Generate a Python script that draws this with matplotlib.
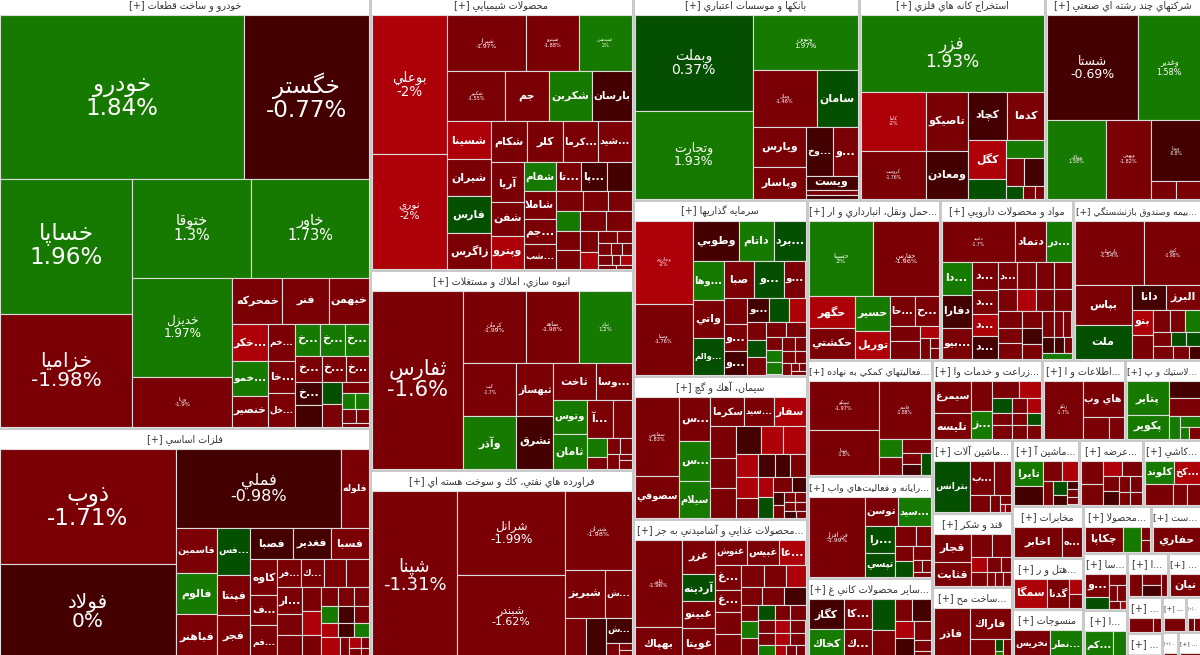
import matplotlib
matplotlib.use('Agg')
import matplotlib.pyplot as plt
from matplotlib.patches import Rectangle

# ---------- data: sector names, sector sizes, stock names / sizes / changes ----------
sector_names = ['خودرو و ساخت قطعات', 'فلزات اساسي', 'محصولات شيميايي', 'انبوه سازي، املاك و مستغلات',
                'فراورده هاي نفتي، كك و سوخت هسته اي', 'بانكها و موسسات اعتباري', 'استخراج كانه هاي فلزي',
                'شركتهاي چند رشته اي صنعتي', 'سرمايه گذاريها', 'سيمان، آهك و گچ',
                '...محصولات غذايي و آشاميدني به جز', '...حمل ونقل، انبارداري و ار', 'مواد و محصولات دارويي',
                '...بيمه وصندوق بازنشستگي', '...فعاليتهاي كمكي به نهاده', '...رايانه و فعاليت\u200cهاي واب',
                '...ساير محصولات كاني غ', '...زراعت و خدمات وا', '...اطلاعات و ا', '...لاستيك و پ',
                '... ماشين آلات', 'قند و شكر', '...ساخت مح', '...ماشين آ', '... عرضه', '... كاشي',
                'مخابرات', '...هتل و ر', 'منسوجات', '...محصولا', '...ست', '...سا', '...ا',
                '...ا', '...', '...', '...', '...', '...', '...', '...']
sector_caps = [161448, 86676, 72588, 52600, 50233, 46556, 38316, 32342, 30624, 24882, 24708,
               21280, 21280, 20640, 14500, 12750, 10375, 8800, 6640, 6160, 5840, 5920, 5920,
               4422, 4224, 3894, 3692, 3621, 3692, 3196, 2397, 2508, 2244, 1804, 1496,
               1260, 980, 840, 560, 464, 696]

auto_names = ['خودرو', 'خگستر', 'خساپا', 'خزاميا', 'ختوقا', 'خاور', 'خديزل', 'ورنا', 'خمحركه', 'فنر', 'خبهمن',
              'خكر...', 'خمو...', 'خنصير', 'خم...', 'خا...', 'خل...', 'خ...', 'خ...', 'خ...', 'خ...', 'خ...', '',
              'خ...', 'خ...', '', '', '', '', '', '', '', '']
auto_caps = [39935, 20375, 17952, 14916, 11760, 11564, 9900, 4950, 2300, 2150, 1850, 1332, 1260, 1080,
             999, 864, 891, 800, 800, 770, 680, 600, 570, 600, 575, 462, 462, 312, 204, 204, 195, 165, 100]
auto_changes = [1.84, -0.77, 1.96, -1.98, 1.3, 1.73, 1.97, -1.9, -1.6, -1.5, -1.7, -2, 1.5, -1.6, -1.5, -1.4,
                -1.5, 1.5, 1.5, 1.4, -1.5, -0.6, -0.5, -1.5, -1.5, 0.5, -1.5, -1.5, 1.2, 1.2, -1.5, -1.4, -1.4]

metal_names = ['ذوب', 'فولاد', 'فملي', 'فلوله', 'فاسمين', 'فالوم', 'فباهنر', 'فس...', 'فپنتا', 'فجر', 'فصبا',
               'فغدير', 'فسبا', 'كاوه', 'ف...', 'فم...', 'فر...', 'ك...', '', '', 'ار...', '', '', '', '', '',
               '', '', '', '', '', '', '', '', '', '', '', '', '', '', '']
metal_caps = [19895, 16435, 12692, 2128, 1800, 1640, 1800, 1551, 1320, 1452, 1302, 1178, 1147, 936, 780, 884,
              672, 616, 616, 616, 650, 525, 600, 437, 456, 456, 306, 288, 270, 272, 256, 240, 238, 224, 210,
              408, 192, 130, 80, 130, 80]
metal_changes = [-1.71, 0, -0.98, -1.5, -1.6, 1.5, -1.6, 0.5, -1.5, -1.5, -0.8, -0.7, -1.5, -1.5, -1.5, -1.5,
                 -1.5, -1.5, -1.5, -1.5, -1.5, -1.5, -1.5, -1.5, -2.2, -1.5, -1.5, -1.4, -1.5, 1.5, -0.5, -1.5,
                 -2.2, -0.6, 1.5, -2.2, -1.5, -2.2, -1.5, -1.5, -1.5]

chem_names = ['بوعلي', 'نوري', 'شيراز', 'شپترو', 'شپديس', 'شكبير', 'جم', 'شكربن', 'بارسان', 'شسينا', 'شيران',
              'فارس', 'زاگرس', 'شكام', 'كلر', 'كرما...', 'شيد...', 'آريا', 'شفن', 'وپترو', 'شفام', 'شاملا',
              'جم ...', 'شب...', 'تا...', 'پا...', '', '', '', '', '', '', '', '', '', '', '', '', '', '', '',
              '', '', '', '', '', '']
chem_caps = [10212, 8436, 4266, 2862, 2862, 2784, 2112, 2064, 1920, 1634, 1548, 1548, 1505, 1476, 1435, 1435,
             1353, 1248, 1088, 1024, 899, 868, 775, 744, 700, 700, 672, 546, 504, 483, 456, 475, 475, 456, 432,
             378, 306, 228, 168, 144, 132, 108, 144, 72, 120, 60, 50]
chem_changes = [-2, -2, -1.97, -1.88, 2, -1.55, -1.5, 1.6, -0.7, -2.1, -1.6, 0.5, -1.6, -1.5, -1.5, -1.5, -1.5,
                -1.5, -1.5, -2.2, 1.5, -1.5, -1.5, -1.5, -1.5, -0.8, -0.6, -1.5, -1.5, -1.5, 1.5, -1.5, -1.5,
                -1.5, -1.5, -1.5, -2.2, -1.5, -1.5, -1.5, -1.5, -1.5, -1.5, -1.5, -2.2, -1.5, -1.5]

build_names = ['ثفارس', 'كرمان', 'ساهد', 'ثباغ', 'كبت', 'وآذر', 'ثبهساز', 'تشرق', 'ثاخت', 'وسا...', 'وتوس',
               'ثامان', 'آ ...', '', '', '', '', '', '', '', '']
build_caps = [15930, 4402, 3763, 3692, 2756, 2704, 1908, 1872, 1548, 1296, 1122, 1122, 936, 684, 380, 240, 195,
              180, 168, 78, 104]
build_changes = [-1.6, -1.99, -1.98, 1.2, -1.7, 1.5, -1.5, -0.7, -1.5, -1.5, 1.6, 1.5, -1.5, -1.5, 1.4, -1.5,
                 -1.5, -1.5, -1.5, -1.5, -1.5]

oil_names = ['شپنا', 'شرانل', 'شبندر', 'شتران', 'شبريز', 'ش...', '', '', 'ش...', '', '', '']
oil_caps = [14535, 9095, 9095, 5304, 1920, 1296, 860, 817, 648, 221, 84, 120]
oil_changes = [-1.31, -1.99, -1.62, -1.98, -1.5, -1.5, -1.5, -0.6, -0.7, -1.5, -1.5, -1.5]

bank_names = ['وبملت', 'وتجارت', 'ونوين', 'وملل', 'سامان', 'ويارس', 'وپاسار', 'وخ...', 'و...', 'ويست', '', '']
bank_caps = [11232, 10179, 5724, 3584, 2296, 2080, 1664, 1296, 1200, 736, 228, 190]
bank_changes = [0.37, 1.93, 1.97, -1.46, 0.5, -1.5, -1.5, -0.7, -1.5, -0.6, -1.5, -0.5]

mine_names = ['فزر', 'كاما', 'كروميت', 'تاصيكو', 'ومعادن', 'كچاد', 'كدما', 'كگل', '', '', '', '', '', '', '']
mine_caps = [13725, 3776, 3072, 2419, 1968, 1833, 1692, 1482, 722, 666, 486, 513, 208, 156, 104]
mine_changes = [1.93, -2, -1.76, -1.5, -0.7, -0.8, -1.5, -2.1, 0.5, 1.5, -1.5, -0.6, 0.5, -1.5, -1.5]

multi_names = ['شستا', 'وغدير', 'ومالك', 'وبهمن', 'وپويا', '', '']
multi_caps = [9568, 6552, 4680, 3510, 3000, 425, 408]
multi_changes = [-0.69, 1.58, 1.58, -1.82, -0.8, -1.5, -1.5]

invest_names = ['وخارزم', 'وسپا', 'وطوبي', 'داتام', 'برد...', 'وها...', 'واتي', 'والم...', 'صبا', 'و...', 'و...',
                '', 'و...', 'و...', 'و...', '', '', '', '', '', '', '', '', '', '', '', '', '', '', '', '', '', '']
invest_caps = [4592, 3920, 1748, 1330, 1216, 1140, 1110, 1080, 1054, 1054, 748, 598, 621, 529, 506, 460, 391,
               324, 306, 306, 280, 280, 195, 180, 180, 169, 143, 143, 121, 105, 60, 50, 50]
invest_changes = [-2, -1.76, -0.7, 1.5, 0.5, 1.5, -1.5, 0.5, -1.5, 0.5, -1.5, -1.5, -1.5, -0.7, -0.6, 0.5, -2.2,
                  -1.5, 0.5, -1.5, -1.5, -1.5, -1.5, 1.5, 1.5, -1.5, -1.5, -1.5, -1.5, -1.5, -1.5, -1.5, -1.5]

cement_names = ['سفارس', 'سصوفي', 'س...', 'س...', 'سيلام', 'سكرما', 'سيد...', 'سفار', '', '', '', '', '', '',
                '', '', '', '', '', '', '', '', '', '', '', '', '', '', '', '', '', '']
cement_caps = [3397, 1763, 1320, 1200, 1080, 952, 840, 868, 768, 720, 720, 675, 594, 594, 504, 441, 420, 374,
               330, 330, 294, 294, 266, 196, 140, 140, 110, 110, 88, 88, 70, 60]
cement_changes = [-1.83, -1.5, -1.5, 1.5, 1.6, -1.5, -1.5, -2.1, -1.5, -1.5, -1.5, -0.7, -2.2, -2.2, -2.2, -2.2,
                  -1.5, -0.6, -0.6, -1.5, -2.2, 0.5, -1.5, -0.6, -0.7, -1.5, -1.5, -1.5, -1.5, -1.5, -0.6, -1.5]

food_names = ['غلدر', 'بهپاك', 'غزر', 'آردينه', 'غبينو', 'غويتا', 'غنوش', 'غبيس', 'عا...', 'غ...', 'غ...', '', '',
              '', '', '', '', '', '', '', '', '', '', '', '', '', '', '', '', '', '', '', '', '', '']
food_caps = [4002, 1518, 1088, 864, 864, 992, 775, 800, 650, 600, 550, 550, 625, 483, 441, 399, 378, 378, 378,
             272, 289, 357, 240, 225, 225, 221, 195, 195, 204, 180, 180, 238, 154, 140, 126]
food_changes = [-1.96, -1.5, -1.5, 0.5, -1.5, -1.5, -1.5, -1.5, -2.1, -1.5, -1.5, -1.5, -1.5, -1.5, -1.5, -2.2,
                -1.5, -1.5, -0.6, -1.5, 1.5, -1.5, 0.5, -1.5, -1.5, -1.5, -2.2, -1.5, -1.5, -2.2, -1.5, 1.5,
                -2.2, -1.5, -1.5]

trans_names = ['حسينا', 'حفارس', 'حگهر', 'حكشتي', 'حسير', 'توريل', 'حا...', 'ح...', '', '', '', '', '', '']
trans_caps = [4680, 4752, 1440, 1395, 1190, 952, 725, 696, 448, 504, 210, 190, 90, 90]
trans_changes = [2, -1.96, -2.1, -1.5, 1.6, -2.1, -1.5, -1.5, -1.5, -1.5, -2.2, -1.5, -1.5, -1.5]

pharma_names = ['دعبيد', 'دتماد', 'در...', 'دا...', 'دفارا', 'بيو...', 'د...', 'د...', 'د...', 'د...', 'د...', '', '',
                '', '', '', '', '', '', '', '', '', '', '', '', '', '', '', '', '', '']
pharma_caps = [2736, 1140, 950, 891, 891, 837, 672, 552, 528, 528, 480, 456, 432, 432, 400, 380, 360, 360, 360,
               340, 340, 306, 289, 255, 270, 198, 198, 180, 144, 108, 150]
pharma_changes = [-1.7, -1.5, 1.5, 1.5, -0.6, -1.5, -1.5, -1.5, -2.1, -0.7, -1.5, -1.5, -1.5, -1.5, -1.5, -2.2,
                  -1.5, -1.5, -1.5, -1.5, -1.5, -1.5, -0.5, -1.5, -1.5, -1.5, -1.5, -0.6, -0.6, -1.5, 1.5]

fund_names = ['بارساب', 'كوثر', 'بپاس', 'ملت', 'دانا', 'البرز', 'بنو', '', '', '', '', '', '', '', '', '', '']
fund_caps = [4402, 3534, 2280, 1881, 840, 864, 525, 504, 378, 315, 336, 252, 210, 196, 252, 210, 140]
fund_changes = [-1.54, -1.98, -1.5, 0.5, -0.7, -1.5, -2.1, -1.5, -1.5, -1.5, 1.5, -1.5, 0.5, 0.5, -1.5, -1.5, -0.6]

support_names = ['تيپيكو', 'سيتا', 'قاسم', '', '', '', '', '', '']
support_caps = [3381, 3036, 2916, 414, 391, 378, 209, 190, 198]
support_changes = [-1.97, -1.8, -1.88, 1.5, -1.5, -1.5, -1.5, -0.6, 0.5]

web_names = ['فن افزار', 'توسن', 'سيد...', 'را...', 'تپسي', '', '', '', '', '', '', '', '']
web_caps = [4374, 924, 924, 784, 700, 396, 288, 256, 256, 242, 110, 110, 70]
web_changes = [-1.99, -1.5, 1.5, 0.5, 0.5, -1.5, -1.5, -1.5, 0.5, -1.5, -1.5, -1.5, -1.5]

other_names = ['كگاز', 'كخاك', 'كا...', 'ك...', '', '', '', '', '', '', '', '', '']
other_caps = [1054, 1088, 806, 832, 704, 660, 380, 400, 324, 396, 315, 180, 150]
other_changes = [-0.6, 1.5, -1.5, -1.5, 0.5, -1.5, -1.5, -0.6, -2.2, -0.6, -1.5, -1.5, -1.5]

farm_names = ['سيمرغ', 'تليسه', '', 'ز...', '', '', '', '', '', '', '', '', '', '', '']
farm_caps = [1188, 936, 630, 588, 459, 374, 300, 225, 195, 240, 180, 156, 260, 195, 169]
farm_changes = [-1.5, -1.5, -1.5, 1.5, -1.5, -2.2, 0.5, -1.5, -2.2, -1.5, -1.5, 0.5, -1.5, -1.5, -1.5]

info_names = ['رتكو', 'هاي وب', '', '']
info_caps = [2242, 1476, 572, 308]
info_changes = [-1.7, -1.5, -1.5, -1.5]

rubber_names = ['پتاير', 'پكوير', '', '', '', '', '', '']
rubber_caps = [1470, 1008, 544, 578, 264, 242, 110, 130]
rubber_changes = [1.5, 1.5, -0.6, -1.5, 1.5, 1.5, 1.5, -1.5]

mach_names = ['بترانس', 'ب...', '', '', '', '', '', '']
mach_caps = [1872, 840, 595, 340, 170, 90, 40, 40]
mach_changes = [0.5, -1.5, -1.5, -1.5, -1.5, -1.5, -2.2, -1.5]

sugar_names = ['قجار', 'قثابت', '', '', '', '', '', '', '', '', '']
sugar_caps = [1008, 864, 484, 418, 238, 221, 196, 140, 104, 104, 91]
sugar_changes = [-1.5, -1.5, -1.5, -1.5, -2.2, -1.5, -1.5, -1.5, -1.5, -1.5, -1.5]

metalp_names = ['فاذر', 'فاراك', '', '', '', '']
metalp_caps = [1908, 1302, 525, 108, 72, 147]
metalp_changes = [-1.5, -1.5, -1.5, 0.5, 1.5, -1.5]

mach2_names = ['تايرا', '', '', '', '', '', '', '', '', '']
mach2_caps = [754, 551, 399, 315, 242, 196, 126, 80, 80, 80]
mach2_changes = [1.5, -0.6, -1.5, -2.2, -1.5, 0.5, -0.6, -0.6, -1.5, -1.5]

trade_names = ['', '', '', '', '', '', '', '', '', '']
trade_caps = [483, 441, 266, 280, 225, 210, 176, 176, 132, 132]
trade_changes = [-1.5, -1.5, -2.2, -1.5, -1.5, -0.6, -1.5, -1.5, -1.5, -1.5]

tile_names = ['كلوند', 'كخ...', '', '', '']
tile_caps = [713, 644, 630, 336, 294]
tile_changes = [1.5, -2.2, -1.5, -1.5, -1.5]

tele_names = ['اخابر', 'ه...']
tele_caps = [1421, 580]
tele_changes = [-1.5, -1.5]

hotel_names = ['سمگا', 'گدنا', '', '']
hotel_caps = [957, 638, 182, 168]
hotel_changes = [-2.2, -1.5, -2.2, -1.5]

textile_names = ['نخريس', 'نطر...']
textile_caps = [1188, 1056]
textile_changes = [-1.5, 1.5]

prod_names = ['چكاپا', '', '', '']
prod_caps = [925, 450, 104, 96]
prod_changes = [-1.5, 1.5, -1.5, -1.5]

drill_names = ['حفاري']
drill_caps = [1250]
drill_changes = [-1.5]

sa_names = ['و...', '', '', '', '', '', '']
sa_caps = [528, 264, 160, 120, 120, 70, 40]
sa_changes = [-1.5, 0.5, -1.5, -1.5, -1.5, -1.5, -2.2]

kam_names = ['كم...', '']
kam_caps = [810, 360]
kam_changes = [1.5, 1.5]

alef_names = ['', '', '', '']
alef_caps = [294, 200, 200, 126]
alef_changes = [-1.5, -1.5, -0.6, -1.5]

nian_names = ['نيان']
nian_caps = [682]
nian_changes = [-1.5]

t1_names = ['', '']
t1_caps = [288, 96]
t1_changes = [-1.5, -1.5]

t2_names = ['']
t2_caps = [100]
t2_changes = [-1.5]

t3_names = ['']
t3_caps = [100]
t3_changes = [-1.5]

t4_names = ['', '']
t4_caps = [60, 60]
t4_changes = [-1.5, -1.5]

t5_names = ['']
t5_caps = [100]
t5_changes = [-1.5]

t6_names = ['']
t6_caps = [60]
t6_changes = [-1.5]

sector_data = [(auto_names, auto_caps, auto_changes), (metal_names, metal_caps, metal_changes),
               (chem_names, chem_caps, chem_changes), (build_names, build_caps, build_changes),
               (oil_names, oil_caps, oil_changes), (bank_names, bank_caps, bank_changes),
               (mine_names, mine_caps, mine_changes), (multi_names, multi_caps, multi_changes),
               (invest_names, invest_caps, invest_changes), (cement_names, cement_caps, cement_changes),
               (food_names, food_caps, food_changes), (trans_names, trans_caps, trans_changes),
               (pharma_names, pharma_caps, pharma_changes), (fund_names, fund_caps, fund_changes),
               (support_names, support_caps, support_changes), (web_names, web_caps, web_changes),
               (other_names, other_caps, other_changes), (farm_names, farm_caps, farm_changes),
               (info_names, info_caps, info_changes), (rubber_names, rubber_caps, rubber_changes),
               (mach_names, mach_caps, mach_changes), (sugar_names, sugar_caps, sugar_changes),
               (metalp_names, metalp_caps, metalp_changes), (mach2_names, mach2_caps, mach2_changes),
               (trade_names, trade_caps, trade_changes), (tile_names, tile_caps, tile_changes),
               (tele_names, tele_caps, tele_changes), (hotel_names, hotel_caps, hotel_changes),
               (textile_names, textile_caps, textile_changes), (prod_names, prod_caps, prod_changes),
               (drill_names, drill_caps, drill_changes), (sa_names, sa_caps, sa_changes),
               (kam_names, kam_caps, kam_changes), (alef_names, alef_caps, alef_changes),
               (nian_names, nian_caps, nian_changes), (t1_names, t1_caps, t1_changes),
               (t2_names, t2_caps, t2_changes), (t3_names, t3_caps, t3_changes),
               (t4_names, t4_caps, t4_changes), (t5_names, t5_caps, t5_changes),
               (t6_names, t6_caps, t6_changes)]

# ---------- layout order of the treemap (direction + number of items per strip) ----------
TOP_SPEC = 'v2 v3 h3 v3 h3 v3 h3 v3 h3 v3 h2 v2 h2 v2 h2 h2'
SECTOR_SPEC = [
    'h2 v2 h2 v2 h3 v3 v3 h3 v3 h2 v2 h1 h2 h2',
    'v2 h2 v3 v3 h3 v3 h4 v3 v3 h3 h3 h3 v1 v1 h2 h2',
    'v2 h3 h4 v4 h4 v3 v4 h3 h3 h3 v2 v2 h2 h3 h3',
    'v1 h3 v2 v2 h2 v2 h2 v2 h2 v1 v2',
    'v1 v2 h1 h2 v1 v1 h1 v1 v2',
    'v2 h1 h2 v2 h2 h1 v2',
    'h1 v2 v2 h2 v2 h1 h2 h3',
    'h2 v1 v1 h1 h2',
    'v2 h3 v3 h3 v3 h3 v3 h2 v3 h2 h2 v1 h2 h1',
    'v2 v3 h3 v3 h3 v3 h3 v2 h2 v2 h2 h2 h3',
    'v2 v4 h3 v4 h3 h3 v3 h3 h3 h3 h4',
    'h2 v2 v2 h2 v2 h1 v1 v2',
    'h3 v3 v4 h4 h4 v3 v3 h3 h3 h1',
    'h2 v2 h2 v2 h3 h3 h3',
    'v2 h1 v2 h1 v2 v1',
    'v1 h2 v2 h2 v2 h1 h2 h1',
    'v2 v2 v2 h2 v2 h1 h1 h1',
    'v2 v2 h2 h3 h3 h3',
    'v1 h1 h2',
    'v2 h1 h1 v1 h1 h2',
    'v1 h2 v1 v1 h1 h2',
    'v2 h2 v2 h2 h3',
    'v1 h1 v1 v2 v1',
    'v2 h2 v1 v2 v3',
    'v2 h2 v2 h2 h2',
    'h2 h3',
    'h2',
    'v1 v1 v2',
    'h2',
    'v1 v1 v2',
    'h1',
    'v2 h1 h2 h2',
    'h2',
    'v1 v2 v1',
    'h1', 'h2', 'h1', 'h1', 'h2', 'h1', 'h1',
]

# ---------- font sizes (px) of labels that also show the change ----------
BIG = {'خودرو': 23, 'خگستر': 23, 'خساپا': 23, 'خزاميا': 20, 'ختوقا': 14.5, 'خاور': 14.5, 'خديزل': 12, 'ورنا': 5.5,
       'ذوب': 23, 'فولاد': 20, 'فملي': 16, 'بوعلي': 13.5, 'نوري': 10.5, 'شيراز': 6, 'شپترو': 5, 'شپديس': 5,
       'شكبير': 5, 'ثفارس': 21, 'كرمان': 6, 'ساهد': 6, 'ثباغ': 5.5, 'كبت': 4.5, 'شپنا': 18, 'شرانل': 12,
       'شبندر': 11, 'شتران': 6.5, 'وبملت': 14, 'وتجارت': 12.5, 'ونوين': 7, 'وملل': 5, 'فزر': 17, 'كاما': 5,
       'كروميت': 4.5, 'شستا': 12.5, 'وغدير': 8, 'ومالك': 5, 'وبهمن': 5, 'وپويا': 4.5, 'وخارزم': 5, 'وسپا': 5,
       'سفارس': 5, 'غلدر': 5.5, 'حسينا': 6.5, 'حفارس': 6.5, 'دعبيد': 4.5, 'بارساب': 5.5, 'كوثر': 4.5,
       'تيپيكو': 5, 'سيتا': 4.5, 'قاسم': 4.5, 'فن افزار': 6, 'رتكو': 4.5}
SMALL_PX = 11
GREEN, DARK_GREEN, DARK, RED, BRIGHT = '#177a00', '#044f00', '#440000', '#7b0006', '#ae0009'

# ---------- Persian shaping: matplotlib has no text shaping of its own ----------
def _forms(isol, n=4):
    return tuple(chr(isol + i) for i in range(n))

FORMS = {'ء': _forms(0xFE80, 1), 'آ': _forms(0xFE81, 2), 'أ': _forms(0xFE83, 2), 'ؤ': _forms(0xFE85, 2),
         'إ': _forms(0xFE87, 2), 'ئ': _forms(0xFE89), 'ا': _forms(0xFE8D, 2), 'ب': _forms(0xFE8F),
         'ة': _forms(0xFE93, 2), 'ت': _forms(0xFE95), 'ث': _forms(0xFE99), 'ج': _forms(0xFE9D), 'ح': _forms(0xFEA1),
         'خ': _forms(0xFEA5), 'د': _forms(0xFEA9, 2), 'ذ': _forms(0xFEAB, 2), 'ر': _forms(0xFEAD, 2),
         'ز': _forms(0xFEAF, 2), 'س': _forms(0xFEB1), 'ش': _forms(0xFEB5), 'ص': _forms(0xFEB9), 'ض': _forms(0xFEBD),
         'ط': _forms(0xFEC1), 'ظ': _forms(0xFEC5), 'ع': _forms(0xFEC9), 'غ': _forms(0xFECD), 'ف': _forms(0xFED1),
         'ق': _forms(0xFED5), 'ك': _forms(0xFED9), 'ل': _forms(0xFEDD), 'م': _forms(0xFEE1), 'ن': _forms(0xFEE5),
         'ه': _forms(0xFEE9), 'و': _forms(0xFEED, 2), 'ى': _forms(0xFEEF, 2), 'ي': _forms(0xFEF1),
         'پ': _forms(0xFB56), 'چ': _forms(0xFB7A), 'ژ': _forms(0xFB8A, 2), 'ک': _forms(0xFB8E), 'گ': _forms(0xFB92),
         'ی': _forms(0xFBFC)}
LAM_ALEF = {'ا': ('\uFEFB', '\uFEFC'), 'آ': ('\uFEF5', '\uFEF6'), 'أ': ('\uFEF7', '\uFEF8'), 'إ': ('\uFEF9', '\uFEFA')}


def shape(text):
    dots = '...' in text
    core = text.replace('...', '').strip()
    out, prev_joins, i = [], False, 0
    while i < len(core):
        c = core[i]
        if c not in FORMS:
            out.append('' if c == '\u200c' else c)
            prev_joins = False
            i += 1
            continue
        nxt = core[i + 1] if i + 1 < len(core) else ''
        if c == 'ل' and nxt in LAM_ALEF:
            out.append(LAM_ALEF[nxt][1 if prev_joins else 0])
            prev_joins = False
            i += 2
            continue
        f = FORMS[c]
        joins_next = len(f) == 4 and nxt in FORMS
        if prev_joins and joins_next:
            out.append(f[3])
        elif prev_joins:
            out.append(f[1])
        elif joins_next:
            out.append(f[2])
        else:
            out.append(f[0])
        prev_joins = joins_next
        i += 1
    vis = ''.join(reversed(out))
    return vis + ('...' if dots else '')


def colour(c):
    if c >= 1:
        return GREEN
    if c > 0:
        return DARK_GREEN
    if c > -1:
        return DARK
    if c > -2:
        return RED
    return BRIGHT


def layout(rect, values, spec):
    x0, y0, x1, y1 = rect
    rects, i, total = [], 0, float(sum(values))
    tokens = spec.split()
    while i < len(values):
        tok = tokens.pop(0) if tokens else ('h' if x1 - x0 <= y1 - y0 else 'v') + '1'
        n = int(tok[1:])
        group = values[i:i + n]
        gs = float(sum(group))
        frac = gs / total if total else 1
        if tok[0] == 'h':
            h = (y1 - y0) * frac
            x = x0
            for v in group:
                w = (x1 - x0) * v / gs
                rects.append((x, y0, x + w, y0 + h))
                x += w
            y0 += h
        else:
            w = (x1 - x0) * frac
            y = y0
            for v in group:
                h = (y1 - y0) * v / gs
                rects.append((x0, y, x0 + w, y + h))
                y += h
            x0 += w
        total -= gs
        i += n
    return rects


plt.rcParams['font.family'] = ['DejaVu Sans']
PX = 0.72
fig = plt.figure(figsize=(12, 6.55), dpi=100, facecolor='#c9c9c9')
ax = fig.add_axes([0, 0, 1, 1])
ax.set_xlim(0, 1200)
ax.set_ylim(655, 0)
ax.axis('off')
renderer = fig.canvas.get_renderer()


def fit(txt, avail):
    w = txt.get_window_extent(renderer).width
    if w > avail:
        txt.set_fontsize(txt.get_fontsize() * avail / w)


HEADER = 21
sector_rects = layout((-2, -6, 1202, 661), sector_caps, TOP_SPEC)
for title, srect, (names, caps, changes), spec in zip(sector_names, sector_rects, sector_data, SECTOR_SPEC):
    sx0, sy0, sx1, sy1 = srect
    ax.add_patch(Rectangle((sx0 + 1.5, sy0 + 1.5), sx1 - sx0 - 3, HEADER - 1.5, fc='white', ec='none'))
    vis_x0, vis_x1 = max(sx0, 0), min(sx1, 1200)
    t = ax.text((vis_x0 + vis_x1) / 2, sy0 + 11.5, '[+] ' + shape(title), ha='center', va='center',
                fontsize=9.6 * PX, color='#333333')
    fit(t, vis_x1 - vis_x0 - 5)
    inner = (sx0 + 1.5, sy0 + HEADER, sx1 - 1.5, sy1 - 1.5)
    for name, chg, r in zip(names, changes, layout(inner, caps, spec)):
        x0, y0, x1, y1 = r
        ax.add_patch(Rectangle((x0, y0), x1 - x0, y1 - y0, fc=colour(chg), ec='#dcdcdc', lw=1.1 * PX))
        if not name:
            continue
        cx, cy = (x0 + x1) / 2, (y0 + y1) / 2
        if name in BIG:
            px = BIG[name]
            t = ax.text(cx, cy, shape(name) + '\n' + f'{chg:g}%', ha='center', va='center', color='white',
                        fontsize=px * PX, linespacing=1.0)
        else:
            t = ax.text(cx, cy, shape(name), ha='center', va='center', color='white',
                        fontsize=SMALL_PX * PX, fontweight='bold')
        fit(t, x1 - x0 - 3)

fig.savefig('out.png', dpi=100, facecolor=fig.get_facecolor())
